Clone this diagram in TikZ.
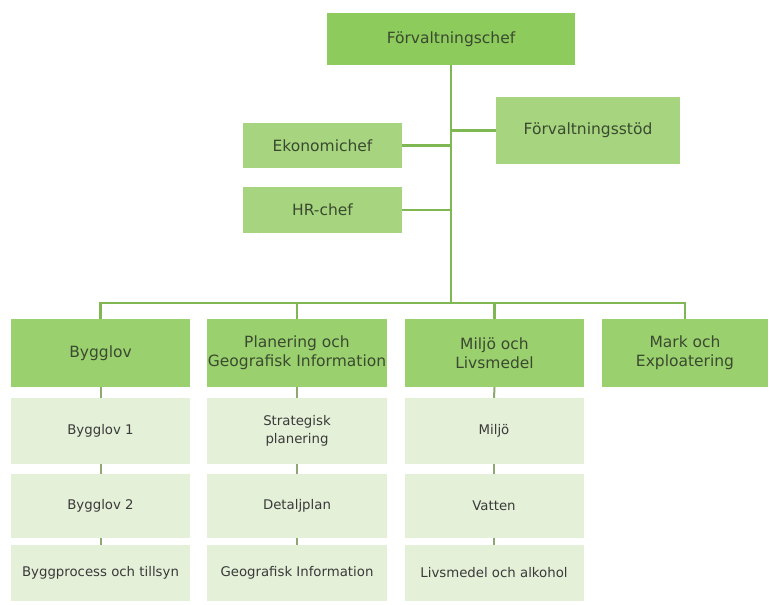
\documentclass[tikz,border=0pt]{standalone}
\usepackage{fontspec}
\setmainfont{DejaVu Sans}
\definecolor{topg}{HTML}{8DCB5C}
\definecolor{midg}{HTML}{A7D57F}
\definecolor{lvlg}{HTML}{9BD06E}
\definecolor{subg}{HTML}{E4F0D8}
\definecolor{lineg}{HTML}{7FB852}
\definecolor{tickg}{HTML}{8FA872}
\definecolor{txtg}{HTML}{3A4A30}
\definecolor{txts}{HTML}{3A3A3A}
\tikzset{
  box/.style={draw=none, inner sep=0pt, align=center, text=txtg,
    font=\fontsize{15.5}{19}\selectfont},
  topbox/.style={box, fill=topg},
  staffbox/.style={box, fill=midg},
  lvlbox/.style={box, fill=lvlg, minimum height=68pt},
  subbox/.style={box, fill=subg, text=txts, font=\fontsize{13.3}{18}\selectfont},
  conn/.style={draw=lineg, line width=2.2pt},
  tick/.style={draw=tickg, line width=2pt}
}
\begin{document}
\begin{tikzpicture}[x=1pt,y=1pt]
\useasboundingbox (0,0) rectangle (769,-605);
\fill[white] (0,0) rectangle (769,-605);
% top
\node[topbox, minimum width=248pt, minimum height=52pt] (chef) at (451,-39) {Förvaltningschef};
\node[staffbox, minimum width=184pt, minimum height=67pt] (stod) at (588,-130.5) {Förvaltningsstöd};
\node[staffbox, minimum width=159pt, minimum height=45pt] (eko) at (322.5,-145.5) {Ekonomichef};
\node[staffbox, minimum width=159pt, minimum height=46pt] (hr) at (322.5,-210) {HR-chef};
% level 2
\node[lvlbox, minimum width=179pt] (bygg) at (100.5,-353) {Bygglov};
\node[lvlbox, minimum width=180pt] (plan) at (297,-353) {Planering och\\Geografisk Information};
\node[lvlbox, minimum width=179pt] (miljo) at (494.5,-353) {Miljö och\\Livsmedel};
\node[lvlbox, minimum width=166pt] (mark) at (685,-353) {Mark och\\Exploatering};
% sub rows
\node[subbox, minimum width=179pt, minimum height=66pt] (b1) at (100.5,-431) {Bygglov 1};
\node[subbox, minimum width=179pt, minimum height=64pt] (b2) at (100.5,-506) {Bygglov 2};
\node[subbox, minimum width=179pt, minimum height=56pt] (b3) at (100.5,-573) {Byggprocess och tillsyn};
\node[subbox, minimum width=180pt, minimum height=66pt] (p1) at (297,-431) {Strategisk\\planering};
\node[subbox, minimum width=180pt, minimum height=64pt] (p2) at (297,-506) {Detaljplan};
\node[subbox, minimum width=180pt, minimum height=56pt] (p3) at (297,-573) {Geografisk Information};
\node[subbox, minimum width=179pt, minimum height=66pt] (m1) at (494,-431) {Miljö};
\node[subbox, minimum width=179pt, minimum height=64pt] (m2) at (494,-506) {Vatten};
\node[subbox, minimum width=179pt, minimum height=56pt] (m3) at (494,-573) {Livsmedel och alkohol};
% connectors
\coordinate (bus) at (chef.south |- 0,-303);
\draw[conn] (chef.south) -- (bus);
\draw[conn] (chef.south |- stod.west) -- (stod.west);
\draw[conn] (chef.south |- eko.east) -- (eko.east);
\draw[conn] (chef.south |- hr.east) -- (hr.east);
\draw[conn] (bus) -| (bygg.north);
\draw[conn] (bus) -| (plan.north);
\draw[conn] (bus) -| (miljo.north);
\draw[conn] (bus) -| (mark.north);
% ticks
\draw[tick] (bygg.south) -- (b1.north);
\draw[tick] (b1.south) -- (b2.north);
\draw[tick] (b2.south) -- (b3.north);
\draw[tick] (plan.south) -- (p1.north);
\draw[tick] (p1.south) -- (p2.north);
\draw[tick] (p2.south) -- (p3.north);
\draw[tick] (miljo.south) -- (m1.north);
\draw[tick] (m1.south) -- (m2.north);
\draw[tick] (m2.south) -- (m3.north);
\end{tikzpicture}
\end{document}
